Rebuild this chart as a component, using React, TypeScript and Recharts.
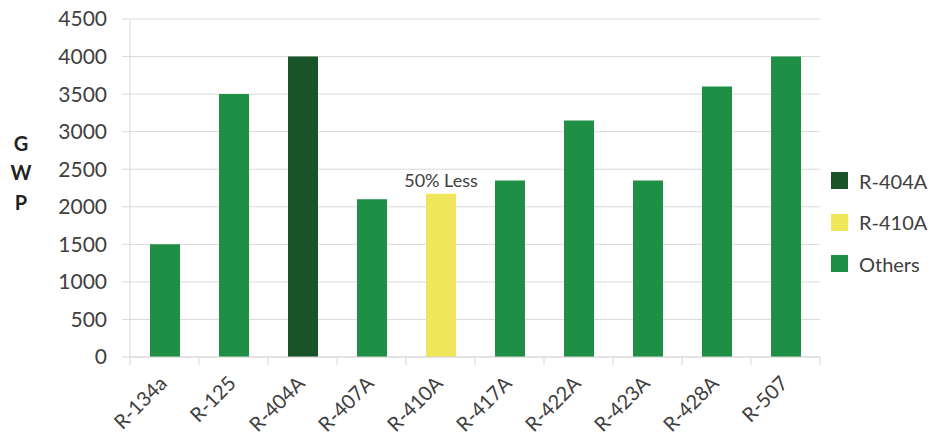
import React from 'react';
import { BarChart, Bar, XAxis, YAxis, CartesianGrid, Cell, LabelList } from 'recharts';

// GWP by refrigerant
const refrigerants = ['R-134a', 'R-125', 'R-404A', 'R-407A', 'R-410A', 'R-417A', 'R-422A', 'R-423A', 'R-428A', 'R-507'];
const gwpValues = [1500, 3500, 4000, 2100, 2175, 2350, 3150, 2350, 3600, 4000];
const barNotes = ['', '', '', '', '50% Less', '', '', '', '', ''];
const legendLabels = ['R-404A', 'R-410A', 'Others'];
const yTicks = [0, 500, 1000, 1500, 2000, 2500, 3000, 3500, 4000, 4500];

const colors: Record<string, string> = {
  'R-404A': '#185428',
  'R-410A': '#efe65c',
  Others: '#1f8f46'
};

const FONT = 'Lato, "Open Sans", sans-serif';
const TEXT = '#404040';
const GRID = '#d9d9d9';

const data = refrigerants.map((name, i) => ({
  name,
  gwp: gwpValues[i],
  note: barNotes[i],
  group: legendLabels.includes(name) ? name : 'Others'
}));

const CHART_W = 925;
const CHART_H = 431;
const MARGIN = { top: 11, right: 113, bottom: 0, left: 0 };
const Y_W = 122;
const X_H = 82;
const band = (CHART_W - MARGIN.left - MARGIN.right - Y_W) / refrigerants.length;

function CategoryTick(props: any) {
  const { x, y, payload, index } = props;
  const left = x - band / 2;
  const tx = x - 2;
  const ty = y + 22;
  return (
    <g>
      <line x1={left} y1={y} x2={left} y2={y + 8} stroke={GRID} />
      {index === refrigerants.length - 1 && (
        <line x1={x + band / 2} y1={y} x2={x + band / 2} y2={y + 8} stroke={GRID} />
      )}
      <text
        x={tx}
        y={ty}
        transform={`rotate(-45, ${tx}, ${ty})`}
        textAnchor="end"
        dominantBaseline="central"
        fontFamily={FONT}
        fontSize={20}
        fill={TEXT}
      >
        {payload.value}
      </text>
    </g>
  );
}

function GwpLabel() {
  return (
    <text fontFamily={FONT} fontSize={20} fontWeight={700} fill="#222" textAnchor="middle">
      <tspan x={13} y={143}>G</tspan>
      <tspan x={13} y={172}>W</tspan>
      <tspan x={13} y={202}>P</tspan>
    </text>
  );
}

function NoteLabel(props: any) {
  const { x, y, width, value } = props;
  if (!value) return null;
  return (
    <text x={x + width / 2} y={y - 7} textAnchor="middle" fontFamily={FONT} fontSize={18} fill={TEXT}>
      {value}
    </text>
  );
}

function LegendBox() {
  return (
    <div style={{ position: 'absolute', left: 823, top: 152, fontFamily: FONT, fontSize: 20, color: TEXT }}>
      {legendLabels.map((label) => (
        <div key={label} style={{ display: 'flex', alignItems: 'center', height: 41.5 }}>
          <span style={{ width: 17, height: 17, background: colors[label], marginRight: 11 }} />
          <span>{label}</span>
        </div>
      ))}
    </div>
  );
}

export default function App() {
  return (
    <div style={{ position: 'relative', width: CHART_W, height: CHART_H, background: '#fff' }}>
      <BarChart width={CHART_W} height={CHART_H} data={data} margin={MARGIN} barSize={30}>
        <CartesianGrid horizontal vertical={false} stroke={GRID} />
        <XAxis
          dataKey="name"
          height={X_H}
          interval={0}
          tickLine={false}
          tickSize={0}
          tickMargin={0}
          axisLine={{ stroke: GRID }}
          tick={<CategoryTick />}
        />
        <YAxis
          width={Y_W}
          domain={[0, 4500]}
          ticks={yTicks}
          interval={0}
          tickSize={8}
          tickMargin={15}
          tickLine={{ stroke: GRID }}
          axisLine={{ stroke: GRID }}
          tick={{ fontFamily: FONT, fontSize: 21, fill: TEXT }}
          label={{ content: GwpLabel }}
        />
        <Bar dataKey="gwp" isAnimationActive={false}>
          {data.map((d) => (
            <Cell key={d.name} fill={colors[d.group]} />
          ))}
          <LabelList dataKey="note" content={NoteLabel} />
        </Bar>
      </BarChart>
      <LegendBox />
    </div>
  );
}
